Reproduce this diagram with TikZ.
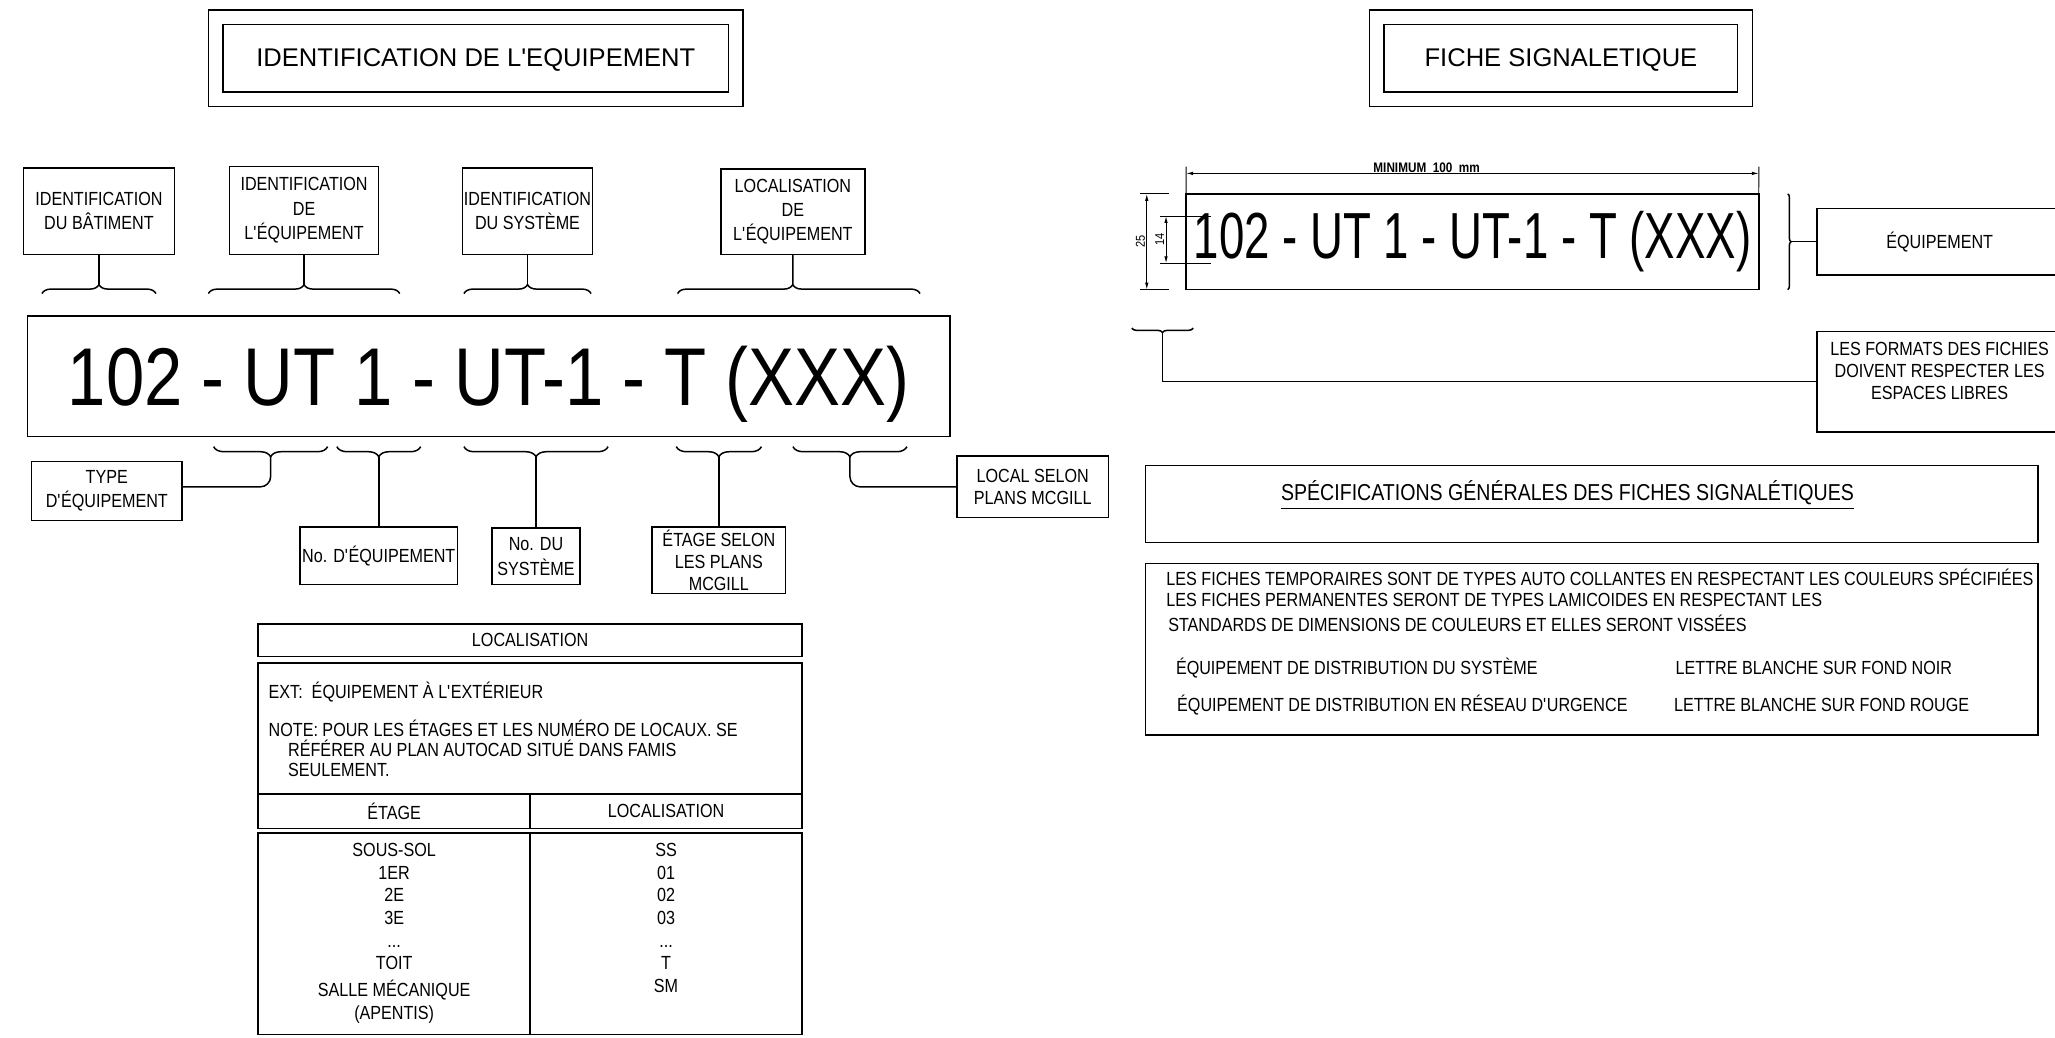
\documentclass[tikz,border=0pt]{standalone}
\usepackage{fontspec}
\setmainfont{Liberation Sans}
\newfontfamily\condfont[FakeStretch=0.85]{Liberation Sans}
\newfontfamily\codefont[FakeStretch=0.84]{Liberation Sans}
\newfontfamily\platefont[FakeStretch=0.70]{Liberation Sans}
\usepackage{tikz}
\usetikzlibrary{arrows.meta, positioning, decorations.pathreplacing}

\begin{document}
\begin{tikzpicture}[
        x=0.02cm, y=-0.02cm,
        line width=0.65pt,
        every node/.style={font=\condfont\fontsize{8.25}{10.6}\selectfont, inner sep=0pt, outer sep=0pt},
        box/.style={draw, align=center},
        titlebox/.style={draw, double, double distance=0.2cm, minimum width=7.94cm, minimum height=1.25cm, text height=0.72em, text depth=0pt, font=\normalfont\fontsize{11.1}{13}\selectfont},
        bracetop/.style={decorate, decoration={brace, amplitude=3.9pt}},
        bracebot/.style={decorate, decoration={brace, amplitude=4.4pt, mirror}},
        dimline/.style={line width=0.4pt, {Latex[length=3pt, width=1.5pt]}-{Latex[length=3pt, width=1.5pt]}},
        dimext/.style={line width=0.4pt},
        dimtxt/.style={rotate=90, anchor=south, inner sep=0.8pt, font=\condfont\fontsize{5.6}{6.5}\selectfont}
    ]
    \fill[white] (0,0) rectangle (1568,792);
    \useasboundingbox (0,0) rectangle (1568,792);

    % titres
    \node[titlebox] (ttlident) at (363,44.5) {IDENTIFICATION DE L\textquotesingle EQUIPEMENT};
    \node[titlebox, minimum width=5.62cm] (ttlfiche) at (1191,44.5) {FICHE SIGNALETIQUE};

    % code complet et ses parties
    \node[box, minimum width=2.30cm, minimum height=1.32cm] (bat) at (75.5,161) {IDENTIFICATION\\DU BÂTIMENT};
    \node[box, minimum width=2.28cm, minimum height=1.34cm] (ident) at (232,160.5) {IDENTIFICATION\\DE\\L\textquotesingle ÉQUIPEMENT};
    \node[box, minimum width=1.98cm, minimum height=1.32cm] (systeme) at (402.5,161) {IDENTIFICATION\\DU SYSTÈME};
    \node[box, minimum width=2.20cm, minimum height=1.30cm] (locequip) at (605,161.5) {LOCALISATION\\DE\\L\textquotesingle ÉQUIPEMENT};

    \node[box, minimum width=14.08cm, minimum height=1.84cm, text depth=0pt, font=\codefont\fontsize{35.6}{40}\selectfont] (code) at (373,287) {102 - UT 1 - UT-1 - T (XXX)};

    \draw[bracetop] (32,224) -- (119,224);
    \draw[bracetop] (159,224) -- (305,224);
    \draw[bracetop] (354,224) -- (451,224);
    \draw[bracetop, decoration={aspect=0.475}] (517,224) -- (702,224);
    \coordinate (cbat) at (75.5,217.2);
    \coordinate (cident) at (232,217.2);
    \coordinate (csysteme) at (402.5,217.2);
    \coordinate (clocequip) at (604.9,217.2);
    \draw (bat) -- (cbat);
    \draw (ident) -- (cident);
    \draw (systeme) -- (csysteme);
    \draw (locequip) -- (clocequip);

    \node[box, minimum width=2.30cm, minimum height=0.90cm] (type) at (81.5,374.5) {TYPE\\D\textquotesingle ÉQUIPEMENT};
    \node[box, minimum width=2.40cm, minimum height=0.88cm] (noequip) at (289,424) {No. D\textquotesingle ÉQUIPEMENT};
    \node[box, minimum width=1.34cm, minimum height=0.86cm] (nosys) at (409,424.5) {No. DU\\SYSTÈME};
    \node[box, minimum width=2.04cm, minimum height=1.02cm, font=\condfont\fontsize{8.25}{9.6}\selectfont] (etage) at (548.5,427.5) {ÉTAGE SELON\\LES PLANS\\MCGILL};
    \node[box, minimum width=2.31cm, minimum height=0.94cm, font=\condfont\fontsize{8.25}{9.2}\selectfont] (local) at (788,371.5) {LOCAL SELON\\PLANS MCGILL};

    \draw[bracebot] (163,340.8) -- (250,340.8);
    \draw[bracebot] (257,340.8) -- (321,340.8);
    \draw[bracebot] (354,340.8) -- (464,340.8);
    \draw[bracebot] (516,340.8) -- (581,340.8);
    \draw[bracebot] (605,340.8) -- (692,340.8);
    \coordinate (ctype) at (206.5,348.5);
    \coordinate (cnoequip) at (289,348.5);
    \coordinate (cnosys) at (409,348.5);
    \coordinate (cetage) at (548.5,348.5);
    \coordinate (clocal) at (648.5,348.5);
    \draw[rounded corners=4.5pt] (ctype) |- (type.3);
    \draw (cnoequip) -- (noequip);
    \draw (cnosys) -- (nosys);
    \draw (cetage) -- (etage);
    \draw[rounded corners=4.5pt] (clocal) |- (local);

    % tableau de localisation
    \node[box, minimum width=8.30cm, minimum height=0.50cm] (lochead) at (404.5,488.5) {LOCALISATION};
    \node[box, minimum width=8.30cm, minimum height=2.00cm, below=0.1cm of lochead] (locnote) {};
    \node[box, minimum width=4.15cm, minimum height=0.52cm, anchor=north west] (etagehead) at (locnote.south west) {ÉTAGE};
    \node[box, minimum width=4.15cm, minimum height=0.52cm, right=0pt of etagehead] (codehead) {LOCALISATION};
    \node[box, minimum width=4.15cm, minimum height=3.08cm, below=0.07cm of etagehead] (etagecol) {};
    \node[box, minimum width=4.15cm, minimum height=3.08cm, right=0pt of etagecol] (codecol) {};

    \node[anchor=base west] (ext) at (205,532.8) {EXT:\ \ ÉQUIPEMENT À L\textquotesingle EXTÉRIEUR};
    \node[anchor=base west] (note1) at (205,562.1) {NOTE: POUR LES ÉTAGES ET LES NUMÉRO DE LOCAUX. SE};
    \node[anchor=base west] (note2) at (219.9,577.4) {RÉFÉRER AU PLAN AUTOCAD SITUÉ DANS FAMIS};
    \node[anchor=base west] (note3) at (219.9,592.6) {SEULEMENT.};

    \node[anchor=north, align=center, font=\condfont\fontsize{8.25}{9.85}\selectfont] (etagelist) at (etagecol.north |- 0,643.4) {SOUS-SOL\\1ER\\2E\\3E\\...\\TOIT\\[1.7pt]SALLE MÉCANIQUE\\(APENTIS)};
    \node[anchor=north, align=center, font=\condfont\fontsize{8.25}{9.85}\selectfont] (codelist) at (codecol.north |- 0,643.4) {SS\\01\\02\\03\\...\\T\\SM};

    % fiche signaletique
    \node[box, minimum width=8.74cm, minimum height=1.46cm, font=\platefont\fontsize{28.3}{32}\selectfont] (plate) at (1123.5,184.4) {102 - UT 1 - UT-1 - T (XXX)};

    \coordinate (mintop1) at (905,127.2);
    \coordinate (mintop2) at (1342,127.2);
    \coordinate (minl) at (905,132.3);
    \coordinate (minr) at (1342,132.3);
    \draw[dimext] (plate.north west) -- (mintop1);
    \draw[dimext] (plate.north east) -- (mintop2);
    \draw[dimline] (minl) -- (minr) node[pos=0.42, above=0.5pt, font=\condfont\bfseries\fontsize{6}{7}\selectfont] (mintxt) {MINIMUM\ \ 100\ \ mm};

    \coordinate (d25t) at (875,147.9);
    \coordinate (d25b) at (875,221);
    \draw[dimext] (870,147.9) -- (892,147.9);
    \draw[dimext] (870,221) -- (892,221);
    \draw[dimline] (d25t) -- (d25b) node[midway, dimtxt] (txt25) {25};

    \coordinate (d14t) at (889.7,164.8);
    \coordinate (d14b) at (889.7,200.9);
    \draw[dimext] (885,164.8) -- (924,164.8);
    \draw[dimext] (885,200.9) -- (924,200.9);
    \draw[dimline] (d14t) -- (d14b) node[midway, dimtxt] (txt14) {14};

    \node[box, minimum width=3.74cm, minimum height=1.02cm] (equip) at (1480,184.4) {ÉQUIPEMENT};
    \draw[decorate, decoration={brace, amplitude=1.5pt}] (1364,147.9) -- (1364,221);
    \coordinate (cequip) at (1366.6,184.4);
    \draw (cequip) -- (equip);

    \node[box, minimum width=3.74cm, minimum height=1.53cm, font=\condfont\fontsize{8.25}{9.4}\selectfont] (formats) at (1480,291.2) {LES FORMATS DES FICHIES\\DOIVENT RESPECTER LES\\ESPACES LIBRES\\\rule{0pt}{0pt}};
    \draw[decorate, decoration={brace, amplitude=2pt, mirror}] (863.6,250.3) -- (910.4,250.3);
    \coordinate (cformats) at (887,253.8);
    \draw (cformats) |- (formats);

    % specifications
    \node[box, minimum width=13.62cm, minimum height=1.18cm] (spechead) at (1214.5,384.5) {};
    \node[anchor=base, font=\condfont\fontsize{10}{12}\selectfont] (spectitle) at (1196,382) {\underline{SPÉCIFICATIONS GÉNÉRALES DES FICHES SIGNALÉTIQUES}};
    \node[box, minimum width=13.62cm, minimum height=2.62cm] (specbody) at (1214.5,495.5) {};
    \node[anchor=base west] (spec1) at (890,446.4) {LES FICHES TEMPORAIRES SONT DE TYPES AUTO COLLANTES EN RESPECTANT LES COULEURS SPÉCIFIÉES};
    \node[anchor=base west] (spec2) at (890,462.9) {LES FICHES PERMANENTES SERONT DE TYPES LAMICOIDES EN RESPECTANT LES};
    \node[anchor=base west] (spec3) at (891.4,482) {STANDARDS DE DIMENSIONS DE COULEURS ET ELLES SERONT VISSÉES};
    \node[anchor=base west] (spec4) at (897.3,514.3) {ÉQUIPEMENT DE DISTRIBUTION DU SYSTÈME};
    \node[anchor=base west] (spec4b) at (1278.6,514.3) {LETTRE BLANCHE SUR FOND NOIR};
    \node[anchor=base west] (spec5) at (898.2,543) {ÉQUIPEMENT DE DISTRIBUTION EN RÉSEAU D\textquotesingle URGENCE};
    \node[anchor=base west] (spec5b) at (1277.3,543) {LETTRE BLANCHE SUR FOND ROUGE};
\end{tikzpicture}
\end{document}
